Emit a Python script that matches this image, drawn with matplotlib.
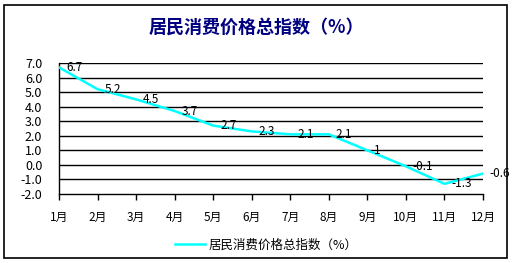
import matplotlib
import matplotlib.pyplot as plt
from matplotlib.patches import Rectangle

plt.rcParams["font.family"] = ["Noto Sans CJK SC", "DejaVu Sans"]

months = ["1月", "2月", "3月", "4月", "5月", "6月", "7月", "8月", "9月", "10月", "11月", "12月"]
cpi = [6.7, 5.2, 4.5, 3.7, 2.7, 2.3, 2.1, 2.1, 1, -0.1, -1.3, -0.6]
value_labels = ["6.7", "5.2", "4.5", "3.7", "2.7", "2.3", "2.1", "2.1", "1", "-0.1", "-1.3", "-0.6"]
y_ticks = [7, 6, 5, 4, 3, 2, 1, 0, -1, -2]

TITLE = "居民消费价格总指数（%）"
LINE_COLOR = "#00FFFF"
TITLE_COLOR = "#000080"

fig = plt.figure(figsize=(5.12, 2.63), dpi=100)
fig.patch.set_facecolor("white")
# ramka wokół całego wykresu
fig.patches.append(Rectangle((4 / 512, 5 / 263), 503 / 512, 253 / 263, transform=fig.transFigure,
                             fill=False, edgecolor="black", linewidth=1.2))

ax = fig.add_axes([59 / 512, 1 - 194 / 263, 424 / 512, 131 / 263])
x = list(range(len(months)))
ax.plot(x, cpi, color=LINE_COLOR, linewidth=1.8, label=TITLE, zorder=3)

for xi, yi, lab in zip(x, cpi, value_labels):
    ax.annotate(lab, (xi, yi), xytext=(5, 0), textcoords="offset points",
                ha="left", va="center", fontsize=8.5, color="black", zorder=4,
                annotation_clip=False)

ax.set_xlim(0, len(months) - 1)
ax.set_ylim(-2, 7)
ax.set_yticks(y_ticks)
ax.set_yticklabels([f"{v:.1f}" for v in y_ticks], fontsize=9)
ax.set_xticks(x)
ax.set_xticklabels(months, fontsize=8.5)
ax.tick_params(axis="x", direction="out", length=4, pad=8, width=1)
ax.tick_params(axis="y", length=0, pad=12)
for v in y_ticks[:-1]:
    ax.axhline(v, color="black", linewidth=1, zorder=1)
ax.spines["top"].set_visible(False)
ax.spines["right"].set_visible(False)
ax.spines["left"].set_linewidth(1)
ax.spines["bottom"].set_linewidth(1)
ax.grid(False)

fig.text(0.5, 1 - 27 / 263, TITLE, ha="center", va="center", fontsize=13,
         fontweight="bold", color=TITLE_COLOR)

leg = fig.legend(loc="center", bbox_to_anchor=(0.52, 1 - 245 / 263), frameon=False,
                 fontsize=9, handlelength=2.4, handletextpad=0.3)

fig.savefig("out.png", dpi=100)
